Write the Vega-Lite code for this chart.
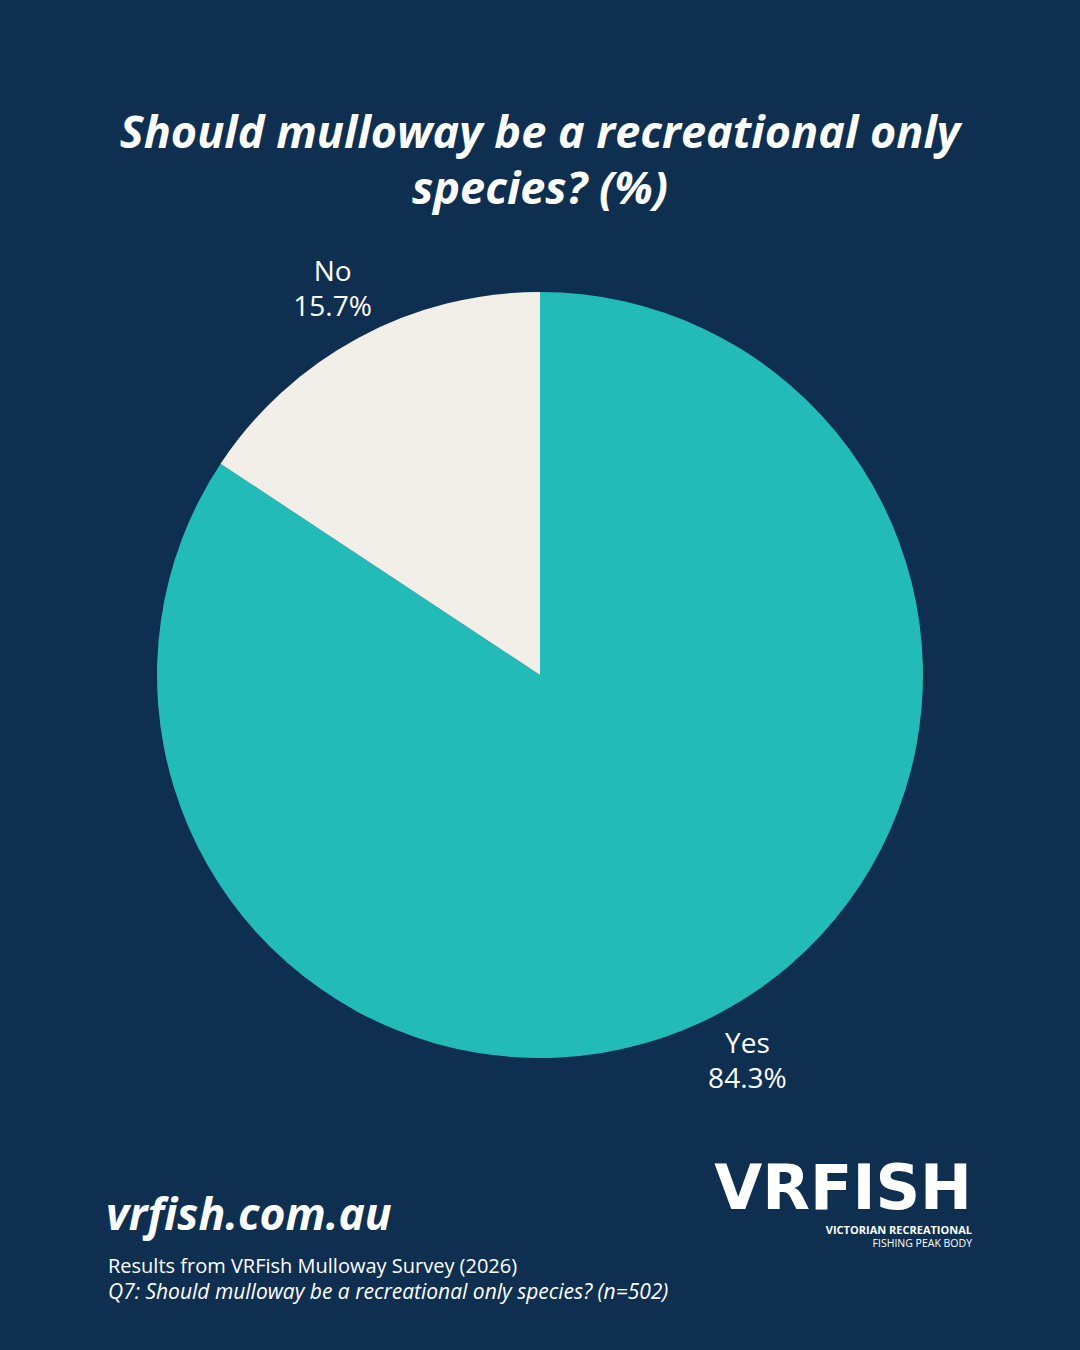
{
  "$schema": "https://vega.github.io/schema/vega-lite/v6.json",
  "width": 1080,
  "height": 1350,
  "autosize": {"type": "fit", "contains": "padding"},
  "padding": 0,
  "background": "#0f2f50",
  "config": {"view": {"stroke": null}, "font": "Open Sans"},
  "data": {
    "values": [
      {"answer": "Yes", "pct": 0.843},
      {"answer": "No", "pct": 0.157}
    ]
  },
  "layer": [
    {
      "mark": {"type": "arc", "outerRadius": 383},
      "encoding": {
        "theta": {"field": "pct", "type": "quantitative", "stack": true},
        "order": {"field": "answer", "sort": "descending"},
        "color": {
          "field": "answer",
          "type": "nominal",
          "scale": {"domain": ["Yes", "No"], "range": ["#22bbb8", "#f2eee8"]},
          "legend": null
        }
      }
    },
    {
      "mark": {"type": "text", "radius": 438, "dy": -16, "fontSize": 28, "color": "#ffffff", "font": "Open Sans"},
      "encoding": {
        "theta": {"field": "pct", "type": "quantitative", "stack": true},
        "order": {"field": "answer", "sort": "descending"},
        "text": {"field": "answer"}
      }
    },
    {
      "mark": {"type": "text", "radius": 438, "dy": 19, "fontSize": 28, "color": "#ffffff", "font": "Open Sans"},
      "encoding": {
        "theta": {"field": "pct", "type": "quantitative", "stack": true},
        "order": {"field": "answer", "sort": "descending"},
        "text": {"field": "pct", "type": "quantitative", "format": ".1%"}
      }
    },
    {
      "data": {"values": [{"t": ["Should mulloway be a recreational only", "species? (%)"]}]},
      "mark": {"type": "text", "align": "center", "baseline": "alphabetic", "fontSize": 45, "fontWeight": "bold", "fontStyle": "italic", "color": "#ffffff", "lineHeight": 56},
      "encoding": {"x": {"value": 540}, "y": {"value": 148}, "text": {"field": "t"}}
    },
    {
      "data": {"values": [{"t": "vrfish.com.au"}]},
      "mark": {"type": "text", "align": "left", "baseline": "alphabetic", "fontSize": 44.5, "fontWeight": "bold", "fontStyle": "italic", "color": "#ffffff"},
      "encoding": {"x": {"value": 106}, "y": {"value": 1230}, "text": {"field": "t"}}
    },
    {
      "data": {"values": [{"t": "Results from VRFish Mulloway Survey (2026)"}]},
      "mark": {"type": "text", "align": "left", "baseline": "alphabetic", "fontSize": 20, "color": "#ffffff"},
      "encoding": {"x": {"value": 108}, "y": {"value": 1273}, "text": {"field": "t"}}
    },
    {
      "data": {"values": [{"t": "Q7: Should mulloway be a recreational only species? (n=502)"}]},
      "mark": {"type": "text", "align": "left", "baseline": "alphabetic", "fontSize": 21, "fontStyle": "italic", "color": "#ffffff"},
      "encoding": {"x": {"value": 108}, "y": {"value": 1299}, "text": {"field": "t"}}
    },
    {
      "data": {"values": [{"t": "VRFISH"}]},
      "mark": {"type": "text", "align": "right", "baseline": "alphabetic", "fontSize": 62, "fontWeight": "bold", "color": "#ffffff", "font": "DejaVu Sans"},
      "encoding": {"x": {"value": 972}, "y": {"value": 1209}, "text": {"field": "t"}}
    },
    {
      "data": {"values": [{"t": "VICTORIAN RECREATIONAL"}]},
      "mark": {"type": "text", "align": "right", "baseline": "alphabetic", "fontSize": 11, "fontWeight": "bold", "color": "#ffffff"},
      "encoding": {"x": {"value": 972}, "y": {"value": 1234}, "text": {"field": "t"}}
    },
    {
      "data": {"values": [{"t": "FISHING PEAK BODY"}]},
      "mark": {"type": "text", "align": "right", "baseline": "alphabetic", "fontSize": 10.5, "color": "#ffffff"},
      "encoding": {"x": {"value": 972}, "y": {"value": 1247}, "text": {"field": "t"}}
    }
  ]
}
